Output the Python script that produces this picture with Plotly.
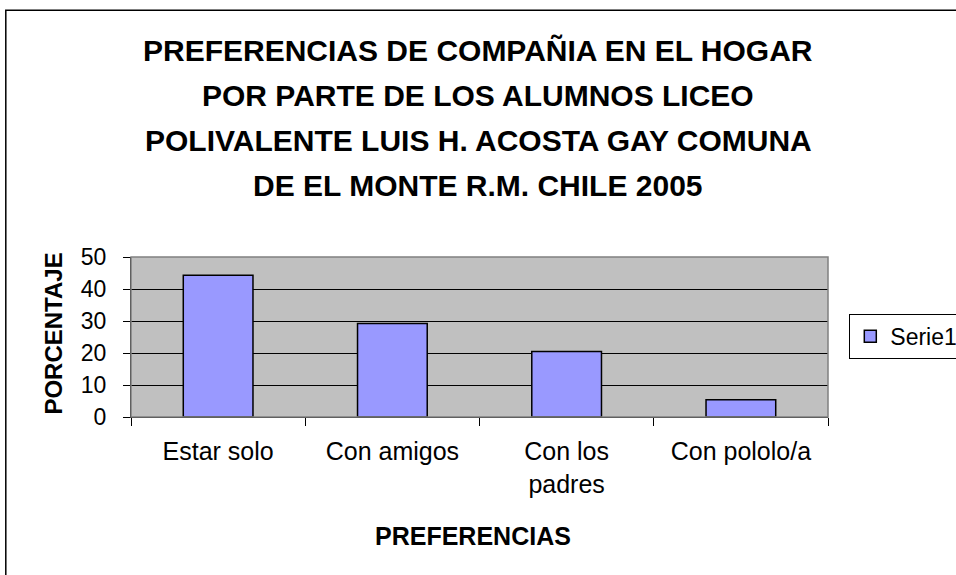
import plotly.graph_objects as go

categories = ["Estar solo", "Con amigos", "Con los<br>padres", "Con pololo/a"]
values = [44.3, 29.2, 20.5, 5.4]
series_name = "Serie1"
title_lines = [
    "PREFERENCIAS DE COMPAÑIA EN EL HOGAR",
    "POR PARTE DE LOS ALUMNOS LICEO",
    "POLIVALENTE LUIS H. ACOSTA GAY COMUNA",
    "DE EL MONTE R.M. CHILE 2005",
]
y_ticks = [0, 10, 20, 30, 40, 50]

W, H = 956, 575
L, R, T, B = 130.7, 827.7, 256.7, 416.7
pw, ph = R - L, B - T

def px(x):
    return (x - L) / pw

def py(y):
    return (B - y) / ph

FONT = "Arial, Liberation Sans"

fig = go.Figure()
fig.add_trace(go.Bar(
    x=categories, y=values, name=series_name,
    marker=dict(color="#9999FF", line=dict(color="black", width=1.5)),
    showlegend=True,
))

annotations = []
title_y = [50, 95, 140, 185]
for line, yy in zip(title_lines, title_y):
    annotations.append(dict(
        text=f"<b>{line}</b>", x=px(478), y=py(yy), xref="paper", yref="paper",
        showarrow=False, xanchor="center", yanchor="middle",
        font=dict(family=FONT, size=30, color="black"),
    ))
annotations.append(dict(
    text="<b>PORCENTAJE</b>", x=px(53), y=py(333), xref="paper", yref="paper",
    showarrow=False, textangle=-90, xanchor="center", yanchor="middle",
    font=dict(family=FONT, size=24, color="black"),
))
annotations.append(dict(
    text="<b>PREFERENCIAS</b>", x=px(473), y=py(536), xref="paper", yref="paper",
    showarrow=False, xanchor="center", yanchor="middle",
    font=dict(family=FONT, size=25, color="black"),
))

fig.update_layout(
    width=W, height=H,
    margin=dict(l=L, r=W - R, t=T, b=H - B, autoexpand=False),
    paper_bgcolor="white", plot_bgcolor="#C0C0C0",
    bargap=0.6,
    font=dict(family=FONT, size=22, color="black"),
    annotations=annotations,
    legend=dict(
        x=px(849), y=py(336), xanchor="left", yanchor="middle",
        bordercolor="black", borderwidth=1, bgcolor="white",
        font=dict(size=23), itemwidth=30,
    ),
    shapes=[
        dict(type="rect", xref="paper", yref="paper",
             x0=px(5.5), x1=px(980), y0=py(10), y1=py(600),
             line=dict(color="black", width=1.5), fillcolor="rgba(0,0,0,0)", layer="below"),
        dict(type="rect", xref="paper", yref="paper",
             x0=0, x1=1, y0=0, y1=1,
             line=dict(color="#808080", width=1.5), fillcolor="rgba(0,0,0,0)"),
    ],
)
fig.update_xaxes(
    showgrid=False, ticks="outside", ticklen=8, tickcolor="black", tickson="boundaries",
    showline=True, linecolor="black", linewidth=1, zeroline=False,
    tickfont=dict(size=25), ticklabelstandoff=12,
)
fig.update_yaxes(
    range=[0, 50], tickvals=y_ticks, showgrid=True, gridcolor="black", gridwidth=1,
    ticks="outside", ticklen=7, tickcolor="black",
    showline=True, linecolor="black", linewidth=1, zeroline=False,
    tickfont=dict(size=23), ticklabelstandoff=12,
)
fig.write_html("out.html", config={"displayModeBar": False},
               post_script="document.body.style.margin='0px';")
